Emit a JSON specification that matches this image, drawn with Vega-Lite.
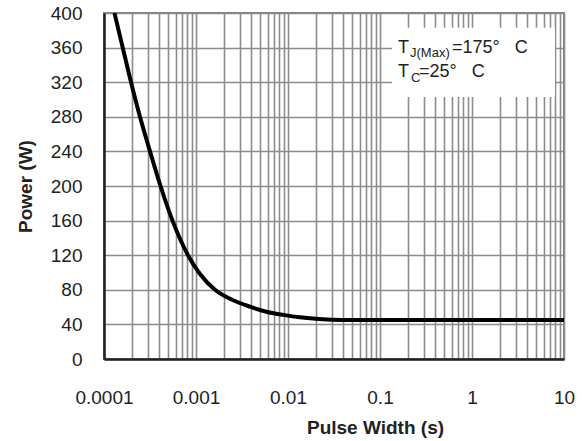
{
  "$schema": "https://vega.github.io/schema/vega-lite/v6.json",
  "width": 460,
  "height": 346,
  "autosize": "none",
  "padding": {"left": 104, "top": 13, "right": 18, "bottom": 82},
  "background": "white",
  "config": {
    "view": {"stroke": "#808080", "strokeWidth": 2},
    "font": "Liberation Sans",
    "axis": {
      "gridColor": "#8c8c8c",
      "gridWidth": 1.6,
      "gridOpacity": 1,
      "domainColor": "#222222",
      "domainWidth": 2.5,
      "ticks": false,
      "tickSize": 0,
      "labelFont": "Liberation Sans",
      "labelFontSize": 19,
      "labelColor": "#222222",
      "labelOverlap": false,
      "titleFont": "Liberation Sans",
      "titleFontSize": 19,
      "titleFontWeight": "bold",
      "titleColor": "#222222"
    }
  },
  "datasets": {
    "curve": [
      {"t": 0.000130, "p": 400},
      {"t": 0.0001597, "p": 360},
      {"t": 0.0001966, "p": 320},
      {"t": 0.0002462, "p": 280},
      {"t": 0.0003162, "p": 240},
      {"t": 0.0004113, "p": 200},
      {"t": 0.0005553, "p": 160},
      {"t": 0.0008185, "p": 120},
      {"t": 0.0011, "p": 98.5},
      {"t": 0.001609, "p": 80},
      {"t": 0.0025, "p": 68.2},
      {"t": 0.00386, "p": 60.5},
      {"t": 0.0058, "p": 54.7},
      {"t": 0.0089, "p": 51},
      {"t": 0.0135, "p": 48.2},
      {"t": 0.02, "p": 46.5},
      {"t": 0.03, "p": 45.5},
      {"t": 0.05, "p": 45},
      {"t": 0.1, "p": 45},
      {"t": 1, "p": 45},
      {"t": 10, "p": 45}
    ],
    "box": [
      {"t": 0.135, "t2": 7.98, "p": 303, "p2": 383}
    ],
    "main": [
      {"t": 0.157, "p": 353.7, "text": "T"},
      {"t": 0.607, "p": 353.7, "text": "=175°\u00a0\u00a0\u00a0C"},
      {"t": 0.157, "p": 325.6, "text": "T"},
      {"t": 0.265, "p": 325.6, "text": "=25°\u00a0\u00a0\u00a0C"}
    ],
    "sub": [
      {"t": 0.212, "p": 349.5, "text": "J(Max)"},
      {"t": 0.217, "p": 320.5, "text": "C"}
    ]
  },
  "encoding": {
    "x": {
      "field": "t",
      "type": "quantitative",
      "scale": {"type": "log", "domain": [0.0001, 10], "nice": false},
      "axis": {
        "title": "Pulse Width (s)",
        "values": [0.0001, 0.0002, 0.0003, 0.0004, 0.0005, 0.0006, 0.0007, 0.0008, 0.0009,
                   0.001, 0.002, 0.003, 0.004, 0.005, 0.006, 0.007, 0.008, 0.009,
                   0.01, 0.02, 0.03, 0.04, 0.05, 0.06, 0.07, 0.08, 0.09,
                   0.1, 0.2, 0.3, 0.4, 0.5, 0.6, 0.7, 0.8, 0.9,
                   1, 2, 3, 4, 5, 6, 7, 8, 9, 10],
        "tickCount": 100,
        "labelExpr": "abs(log(datum.value)/LN10 - round(log(datum.value)/LN10)) < 0.000001 ? format(datum.value, '~g') : ''",
        "labelOverlap": false,
        "labelBaseline": "alphabetic",
        "labelPadding": 44,
        "labelFlush": false,
        "titleX": 271,
        "titleY": 74,
        "titleBaseline": "alphabetic",
        "titleAnchor": "middle"
      }
    },
    "y": {
      "field": "p",
      "type": "quantitative",
      "scale": {"domain": [0, 400], "nice": false, "zero": true},
      "axis": {
        "title": "Power (W)",
        "values": [0, 40, 80, 120, 160, 200, 240, 280, 320, 360, 400],
        "tickCount": 40,
        "labelOverlap": false,
        "labelPadding": 22,
        "labelBaseline": "middle",
        "labelFlush": false,
        "titleAngle": 270,
        "titleBaseline": "alphabetic",
        "titleX": -73,
        "titleY": 173,
        "titleAnchor": "middle"
      }
    }
  },
  "layer": [
    {
      "data": {"name": "curve"},
      "mark": {"type": "line", "color": "black", "strokeWidth": 4, "interpolate": "monotone", "clip": true}
    },
    {
      "data": {"name": "box"},
      "mark": {"type": "rect", "color": "white", "strokeWidth": 0},
      "encoding": {
        "x2": {"field": "t2"},
        "y2": {"field": "p2"}
      }
    },
    {
      "data": {"name": "main"},
      "mark": {"type": "text", "align": "left", "baseline": "alphabetic", "fontSize": 18, "color": "#222222", "font": "Liberation Sans"},
      "encoding": {
        "text": {"field": "text"}
      }
    },
    {
      "data": {"name": "sub"},
      "mark": {"type": "text", "align": "left", "baseline": "alphabetic", "fontSize": 13, "color": "#222222", "font": "Liberation Sans"},
      "encoding": {
        "text": {"field": "text"}
      }
    }
  ]
}
